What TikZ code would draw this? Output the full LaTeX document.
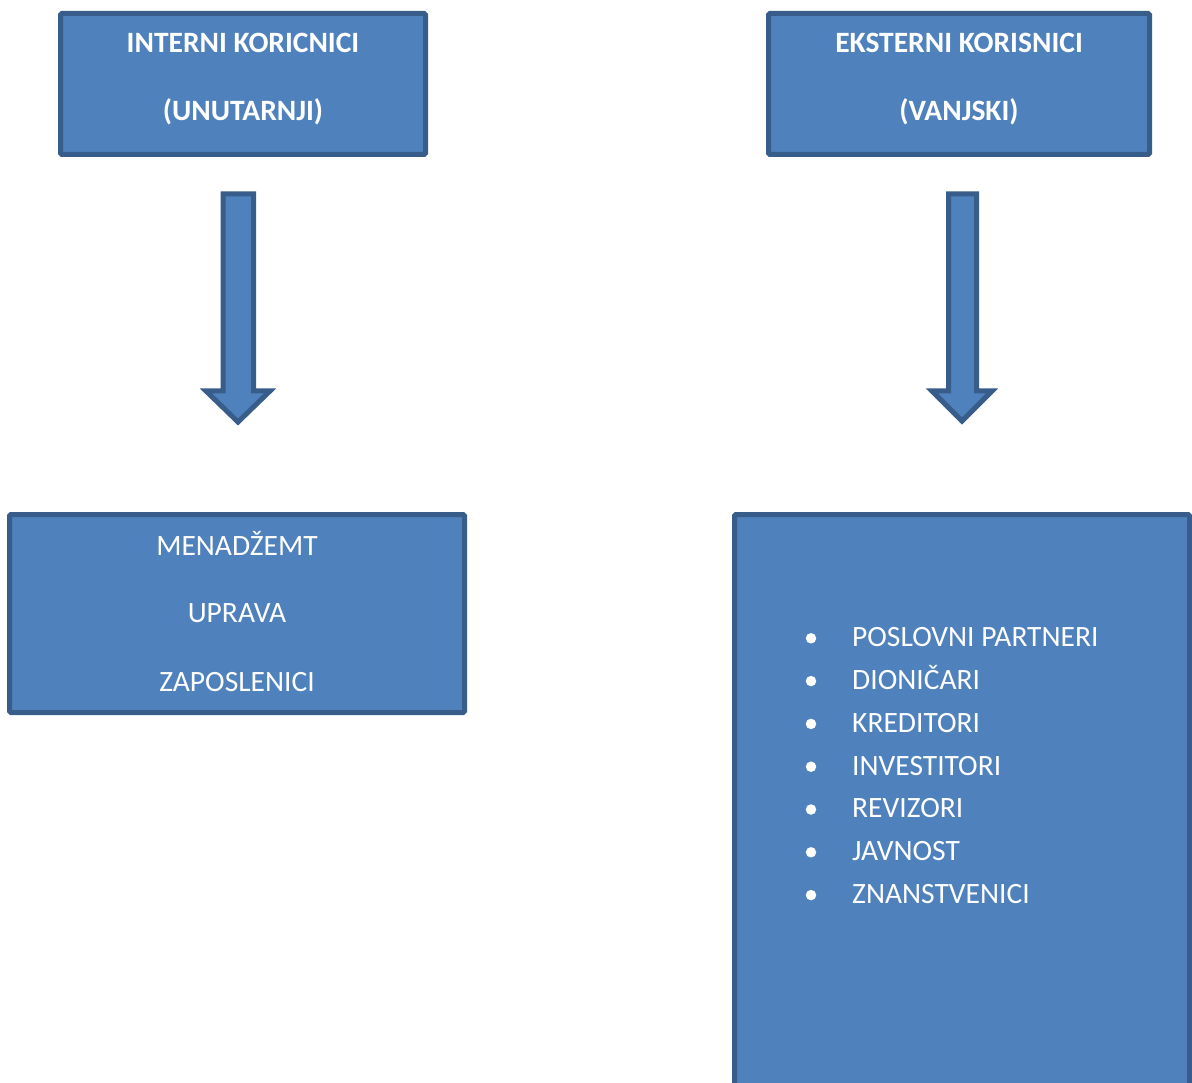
\documentclass[tikz,border=0pt]{standalone}
\usepackage{fontspec}
\setmainfont{Carlito}
\definecolor{boxfill}{HTML}{4F81BD}
\definecolor{boxline}{HTML}{385D8A}
\tikzset{
  panel/.style={draw=boxline, fill=boxfill, line width=5pt, rectangle, rounded corners=1.5pt, inner sep=0pt},
  blockarrow/.style={draw=boxline, fill=boxfill, line width=5pt, line join=miter},
  head/.style={text=white, anchor=base, inner sep=0pt, font=\fontsize{29.5}{35}\selectfont\bfseries},
  item/.style={text=white, anchor=base, inner sep=0pt, font=\fontsize{29.5}{35}\selectfont},
  listitem/.style={text=white, anchor=base west, inner sep=0pt, font=\fontsize{29.5}{35}\selectfont},
  dot/.style={circle, fill=white, inner sep=0pt, minimum size=10.5pt}
}
\begin{document}
\begin{tikzpicture}[x=1pt,y=-1pt]
\useasboundingbox (0,0) rectangle (1192,1083);
\clip (0,0) rectangle (1192,1083);
% top boxes
\node[panel, minimum width=365pt, minimum height=141pt] (intbox) at (243,84) {};
\node[panel, minimum width=381pt, minimum height=141pt] (extbox) at (959,84) {};
\node[head] (int1) at (243,53) {INTERNI KORICNICI};
\node[head] (int2) at (243,121) {(UNUTARNJI)};
\node[head] (ext1) at (959,53) {EKSTERNI KORISNICI};
\node[head] (ext2) at (959,121) {(VANJSKI)};
% block arrows
\draw[blockarrow] (223,194) -- (253.5,194) -- (253.5,391) -- (270,391) -- (238,422) -- (206,391) -- (223,391) -- cycle;
\draw[blockarrow] (948.5,194) -- (976.5,194) -- (976.5,391) -- (992,391) -- (962,421) -- (932,391) -- (948.5,391) -- cycle;
% bottom boxes
\node[panel, minimum width=455pt, minimum height=198pt] (intlist) at (237,613.5) {};
\node[panel, minimum width=455pt, minimum height=585.5pt] (extlist) at (962,807.25) {};
\node[item] (m1) at (237,555) {MENAD\v{Z}EMT};
\node[item] (m2) at (237,622.7) {UPRAVA};
\node[item] (m3) at (237,691) {ZAPOSLENICI};
% bullet list
\foreach \i/\t/\yy in {1/POSLOVNI PARTNERI/646.7, 2/DIONI\v{C}ARI/689.5, 3/KREDITORI/732.3, 4/INVESTITORI/775.1, 5/REVIZORI/817.9, 6/JAVNOST/860.7, 7/ZNANSTVENICI/903.5}{
  \node[dot] (b\i) at (811,\yy-8.4) {};
  \node[listitem] (l\i) at (852,\yy) {\t};
}
\end{tikzpicture}
\end{document}
